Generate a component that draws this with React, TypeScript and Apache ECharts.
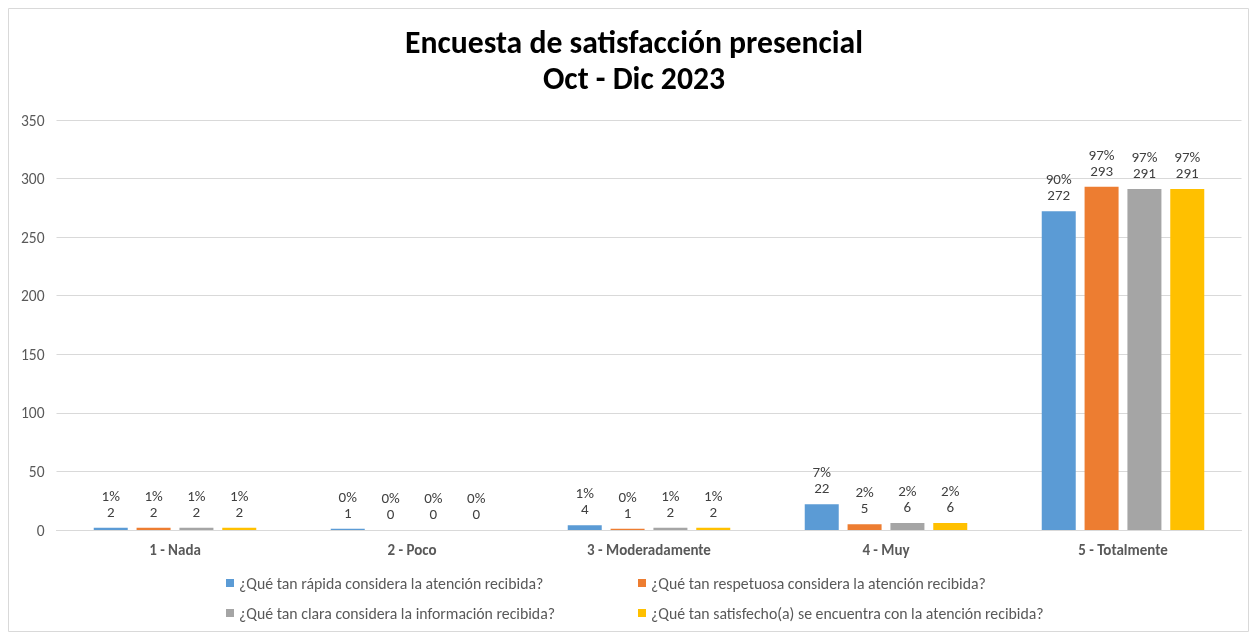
import React, { useEffect, useRef } from "react";
import * as echarts from "echarts";

const categories = ["1 - Nada", "2 - Poco", "3 - Moderadamente", "4 - Muy", "5 - Totalmente"];
const seriesNames = [
  "¿Qué tan rápida considera la atención recibida?",
  "¿Qué tan respetuosa considera la atención recibida?",
  "¿Qué tan clara considera la información recibida?",
  "¿Qué tan satisfecho(a) se encuentra con la atención recibida?",
];
const rapidaValues = [2, 1, 4, 22, 272];
const respetuosaValues = [2, 0, 1, 5, 293];
const claraValues = [2, 0, 2, 6, 291];
const satisfechoValues = [2, 0, 2, 6, 291];
const rapidaPct = ["1%", "0%", "1%", "7%", "90%"];
const respetuosaPct = ["1%", "0%", "0%", "2%", "97%"];
const claraPct = ["1%", "0%", "1%", "2%", "97%"];
const satisfechoPct = ["1%", "0%", "1%", "2%", "97%"];
const colors = ["#5B9BD5", "#ED7D31", "#A5A5A5", "#FFC000"];

const FONT = "'Liberation Sans Narrow', Carlito, Calibri, 'Open Sans', sans-serif";

export default function App() {
  const ref = useRef<HTMLDivElement>(null);
  useEffect(() => {
    if (!ref.current) return;
    const chart = echarts.init(ref.current, undefined, { renderer: "svg" });
    const values = [rapidaValues, respetuosaValues, claraValues, satisfechoValues];
    const pcts = [rapidaPct, respetuosaPct, claraPct, satisfechoPct];
    const legendPos = [
      { left: 221, top: 570 },
      { left: 633, top: 570 },
      { left: 221, top: 600 },
      { left: 633, top: 600 },
    ];
    chart.setOption({
      animation: false,
      textStyle: { fontFamily: FONT },
      title: {
        text: "Encuesta de satisfacción presencial\nOct - Dic 2023",
        left: 629,
        textAlign: "center",
        top: 19,
        textStyle: { fontSize: 31.7, fontWeight: "bold", color: "#000", lineHeight: 36, fontFamily: FONT },
      },
      graphic: [
        {
          type: "rect",
          shape: { x: 8.5, y: 8.5, width: 1240, height: 623 },
          style: { fill: "none", stroke: "#D9D9D9", lineWidth: 1 },
          silent: true,
        },
      ],
      legend: seriesNames.map((n, i) => ({
        data: [n],
        left: legendPos[i].left,
        top: legendPos[i].top,
        itemWidth: 8,
        itemHeight: 8,
        icon: "rect",
        textStyle: { fontSize: 15.8, color: "#595959", fontFamily: FONT },
      })),
      grid: { left: 56.5, right: 7.5, top: 120, bottom: 102 },
      xAxis: {
        type: "category",
        data: categories,
        axisLine: { show: true, lineStyle: { color: "#D9D9D9" } },
        axisTick: { show: false },
        axisLabel: { fontSize: 15, fontWeight: "bold", color: "#595959", margin: 12, fontFamily: FONT },
      },
      yAxis: {
        type: "value",
        min: 0,
        max: 350,
        interval: 50,
        axisLine: { show: false },
        axisTick: { show: false },
        splitLine: { lineStyle: { color: "#D9D9D9" } },
        axisLabel: { fontSize: 15.5, color: "#595959", margin: 12, fontFamily: FONT },
      },
      series: seriesNames.map((n, i) => ({
        name: n,
        type: "bar",
        data: values[i],
        barWidth: 34,
        barGap: "26%",
        itemStyle: { color: colors[i] },
        label: {
          show: true,
          position: "top",
          distance: 8,
          fontSize: 15,
          lineHeight: 16,
          color: "#404040",
          fontFamily: FONT,
          formatter: (p: any) => pcts[i][p.dataIndex] + "\n" + p.value,
        },
      })),
    });
    return () => chart.dispose();
  }, []);
  return <div ref={ref} style={{ position: "fixed", left: 0, top: 0, width: 1249, height: 632 }} />;
}
